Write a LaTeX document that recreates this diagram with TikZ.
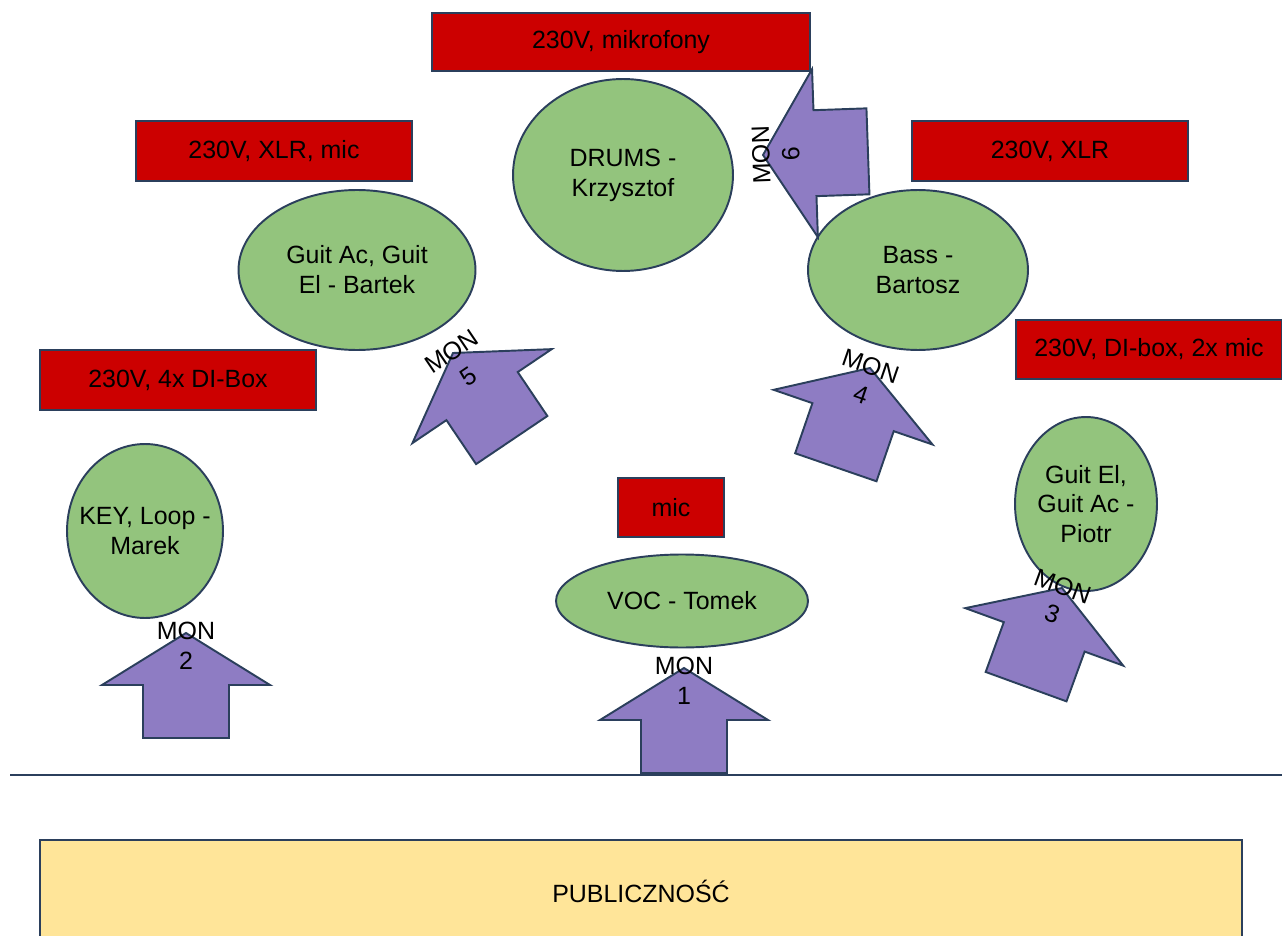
\documentclass[tikz,border=0pt]{standalone}
\usepackage{fontspec}
\setmainfont{Liberation Sans}
\usepackage{tikz}
\usetikzlibrary{shapes.geometric}

\definecolor{stagered}{HTML}{CC0000}
\definecolor{playergreen}{HTML}{93C47D}
\definecolor{monpurple}{HTML}{8E7CC3}
\definecolor{crowdyellow}{HTML}{FFE599}
\definecolor{navyline}{HTML}{2B3F5C}

\tikzset{
	power/.style={draw=navyline, fill=stagered, line width=0.8pt, inner sep=0pt, minimum height=1.2cm},
	player/.style={ellipse, draw=navyline, fill=playergreen, line width=1.1pt, inner sep=0pt},
	who/.style={label={[align=center]center:{#1}}},
	montext/.style={align=center, inner sep=0pt, transform shape},
	pics/monitor/.style={code={
		\draw[draw=navyline, fill=monpurple, line width=1.1pt, line join=miter]
		(0,0) -- (84,52) -- (43,52) -- (43,105) -- (-43,105) -- (-43,52) -- (-84,52) -- cycle;
		\node[montext] (-label) at (0,13) {MON\\#1};
	}}
}

\begin{document}
\begin{tikzpicture}[x=0.02cm, y=-0.02cm, font=\fontsize{14.2}{17}\selectfont]
\useasboundingbox (0,0) rectangle (1282,936);

\node[power, minimum width=7.56cm, minimum height=1.16cm] (pwrdrums) at (621,42) {230V, mikrofony};
\node[power, minimum width=5.52cm] (pwrbartek) at (274,151) {230V, XLR, mic};
\node[power, minimum width=5.52cm] (pwrbass) at (1050,151) {230V, XLR};
\node[power, minimum width=5.52cm] (pwrkey) at (178,380) {230V, 4x DI-Box};
\node[power, minimum width=5.32cm, minimum height=1.18cm] (pwrpiotr) at (1149,349.5) {230V, DI-box, 2x mic};
\node[power, minimum width=2.12cm, minimum height=1.18cm] (pwrvoc) at (671,507.5) {mic};

\node[player, minimum width=4.4cm, minimum height=3.84cm, who={DRUMS -\\Krzysztof}] (drums) at (623,175) {};
\node[player, minimum width=4.74cm, minimum height=3.2cm, who={Guit Ac, Guit\\El - Bartek}] (bartek) at (357,270) {};
\node[player, minimum width=4.4cm, minimum height=3.2cm, who={Bass -\\Bartosz}] (bass) at (918,270) {};
\node[player, minimum width=2.84cm, minimum height=3.48cm, who={Guit El,\\Guit Ac -\\Piotr}] (piotr) at (1086,504) {};
\node[player, minimum width=3.12cm, minimum height=3.48cm, who={KEY, Loop -\\Marek}] (key) at (145,531) {};
\node[player, minimum width=5.04cm, minimum height=1.86cm, who={VOC - Tomek}] (voc) at (682,601) {};

\pic (mon1) at (684,668) {monitor=1};
\pic (mon2) at (186,633) {monitor=2};
\pic[rotate=-20] (mon3) at (1062,588) {monitor=3};
\pic[rotate=-19] (mon4) at (870,368) {monitor=4};
\pic[rotate=34] (mon5) at (453,353) {monitor=5};
\pic[rotate=92] (mon6) at (763,155) {monitor=6};

\draw[navyline, line width=1.2pt] (10,775) -- (1282,775);
\node[draw=navyline, fill=crowdyellow, line width=1.1pt, minimum width=24.04cm, minimum height=2.04cm] (crowd) at (641,891) {PUBLICZNOŚĆ};
\end{tikzpicture}
\end{document}
